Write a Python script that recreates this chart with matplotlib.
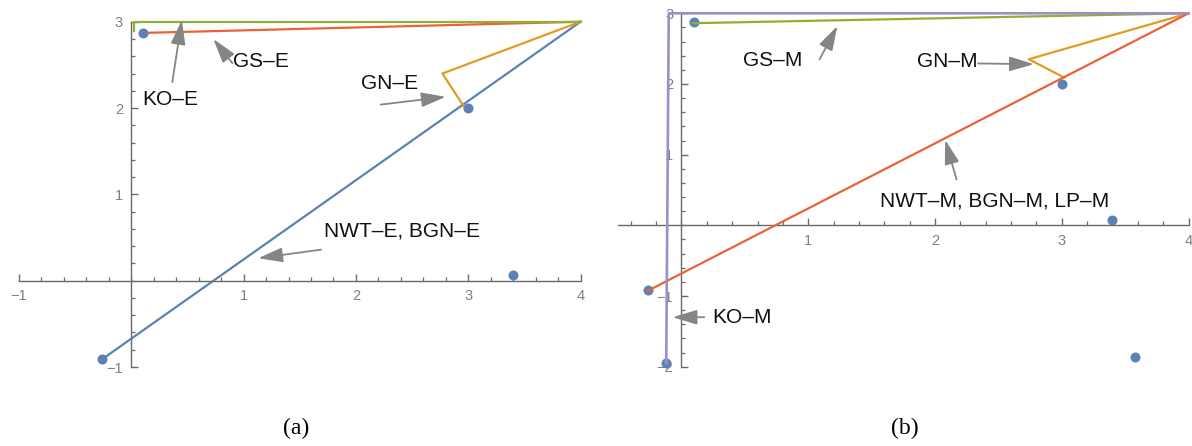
import matplotlib
matplotlib.use('Agg')
import matplotlib.pyplot as plt
from matplotlib.ticker import MultipleLocator, FixedLocator, FixedFormatter

# ---------------- data ----------------
root_x = [-0.26, 0.10, 3.00, 3.40, 3.58, -0.12]
root_y = [-0.91, 2.87, 2.00, 0.07, -1.86, -1.95]

# panel (a) iteration paths
nwt_e_x = [-0.26, 4.0]
nwt_e_y = [-0.91, 3.0]
gn_e_x = [2.96, 2.77, 4.0]
gn_e_y = [2.02, 2.40, 3.0]
ko_e_x = [0.02, 0.02, 4.0]
ko_e_y = [2.89, 3.0, 3.0]
gs_e_x = [0.10, 4.0]
gs_e_y = [2.87, 3.0]

# panel (b) iteration paths
nwt_m_x = [-0.27, 4.0]
nwt_m_y = [-0.93, 3.0]
gn_m_x = [3.02, 2.74, 4.0]
gn_m_y = [2.09, 2.35, 3.0]
gs_m_x = [0.09, 4.0]
gs_m_y = [2.86, 3.0]
ko_m_x = [-0.12, -0.10, 4.0]
ko_m_y = [-1.95, 3.0, 3.0]

xticks_a = [-1, 1, 2, 3, 4]
xticklabels_a = ['\u22121', '1', '2', '3', '4']
yticks_a = [-1, 1, 2, 3]
yticklabels_a = ['\u22121', '1', '2', '3']
xticks_b = [1, 2, 3, 4]
xticklabels_b = ['1', '2', '3', '4']
yticks_b = [-2, -1, 1, 2, 3]
yticklabels_b = ['\u22122', '\u22121', '1', '2', '3']

# ---------------- style ----------------
BLUE = '#5E81B5'
ORANGE = '#E19C24'
GREEN = '#8FB032'
RED = '#EB6235'
PURPLE = '#9B8FC8'
AXC = '#6a6a6a'
TICKC = '#808080'
ARROWC = '#858585'
FONT = 'Liberation Sans'

fig = plt.figure(figsize=(11.92, 4.46), dpi=100)
ax_a = fig.add_axes([0.01594, 0.1771, 0.4711, 0.7742])
ax_b = fig.add_axes([0.5185, 0.1778, 0.4786, 0.7924])


def style(ax, xlim, ylim, xt, xtl, yt, ytl):
    ax.set_xlim(*xlim)
    ax.set_ylim(*ylim)
    for s in ['top', 'right']:
        ax.spines[s].set_visible(False)
    for s in ['left', 'bottom']:
        ax.spines[s].set_position(('data', 0))
        ax.spines[s].set_color(AXC)
        ax.spines[s].set_linewidth(1.0)
    ax.xaxis.set_major_locator(FixedLocator(xt))
    ax.xaxis.set_major_formatter(FixedFormatter(xtl))
    ax.yaxis.set_major_locator(FixedLocator(yt))
    ax.yaxis.set_major_formatter(FixedFormatter(ytl))
    ax.xaxis.set_minor_locator(MultipleLocator(0.2))
    ax.yaxis.set_minor_locator(MultipleLocator(0.2))
    ax.tick_params(which='major', direction='in', length=5, width=1.0,
                   color=AXC, labelcolor=TICKC, labelsize=10.5, pad=6)
    ax.tick_params(which='minor', direction='in', length=3, width=0.9,
                   color=AXC)
    for lab in ax.get_xticklabels() + ax.get_yticklabels():
        lab.set_fontfamily(FONT)
    ax.patch.set_visible(False)


def label(ax, x, y, s):
    ax.text(x, y, s, ha='center', va='center', fontsize=15,
            family=FONT, color='#111111', zorder=6)


def arrow(ax, tail, head):
    ax.annotate('', xy=head, xytext=tail,
                arrowprops=dict(arrowstyle='-|>,head_length=1.0,head_width=0.3',
                                color=ARROWC, lw=1.3, shrinkA=0, shrinkB=0,
                                mutation_scale=15),
                zorder=5, annotation_clip=False)


LW = 1.6

# ---------------- panel (a) ----------------
style(ax_a, (-1, 4), (-1, 3), xticks_a, xticklabels_a, yticks_a, yticklabels_a)
ax_a.plot(nwt_e_x, nwt_e_y, color=BLUE, lw=LW, clip_on=False, zorder=2)
ax_a.plot(gn_e_x, gn_e_y, color=ORANGE, lw=LW, clip_on=False, zorder=2)
ax_a.plot(gs_e_x, gs_e_y, color=RED, lw=LW, clip_on=False, zorder=2)
ax_a.plot(ko_e_x, ko_e_y, color=GREEN, lw=LW, clip_on=False, zorder=2)
ax_a.scatter(root_x, root_y, s=52, color=BLUE, zorder=3, linewidths=0)

label(ax_a, 1.15, 2.54, 'GS\u2013E')
arrow(ax_a, (0.90, 2.52), (0.73, 2.80))
label(ax_a, 0.35, 2.10, 'KO\u2013E')
arrow(ax_a, (0.365, 2.30), (0.45, 3.02))
label(ax_a, 2.30, 2.29, 'GN\u2013E')
arrow(ax_a, (2.22, 2.04), (2.80, 2.13))
label(ax_a, 2.41, 0.58, 'NWT\u2013E, BGN\u2013E')
arrow(ax_a, (1.69, 0.36), (1.13, 0.26))

# ---------------- panel (b) ----------------
style(ax_b, (-0.5, 4), (-2, 3), xticks_b, xticklabels_b, yticks_b, yticklabels_b)
ax_b.scatter(root_x, root_y, s=52, color=BLUE, zorder=2, linewidths=0, clip_on=False)
ax_b.plot(gs_m_x, gs_m_y, color=GREEN, lw=LW, clip_on=False, zorder=3)
ax_b.plot(gn_m_x, gn_m_y, color=ORANGE, lw=LW, clip_on=False, zorder=3)
ax_b.plot(nwt_m_x, nwt_m_y, color=RED, lw=LW, clip_on=False, zorder=3)
ax_b.plot(ko_m_x, ko_m_y, color=PURPLE, lw=LW + 0.3, clip_on=False, zorder=3)

label(ax_b, 0.72, 2.33, 'GS\u2013M')
arrow(ax_b, (1.09, 2.35), (1.23, 2.82))
label(ax_b, 2.10, 2.32, 'GN\u2013M')
arrow(ax_b, (2.34, 2.29), (2.78, 2.28))
label(ax_b, 2.47, 0.35, 'NWT\u2013M, BGN\u2013M, LP\u2013M')
arrow(ax_b, (2.17, 0.65), (2.08, 1.21))
label(ax_b, 0.48, -1.31, 'KO\u2013M')
arrow(ax_b, (0.18, -1.30), (-0.07, -1.30))

# ---------------- panel captions ----------------
fig.text(296 / 1192, 1 - 428 / 446, '(a)', ha='center', va='center',
         fontsize=17, family='Liberation Serif', color='black')
fig.text(905 / 1192, 1 - 428 / 446, '(b)', ha='center', va='center',
         fontsize=17, family='Liberation Serif', color='black')

fig.savefig('out.png', dpi=100)
